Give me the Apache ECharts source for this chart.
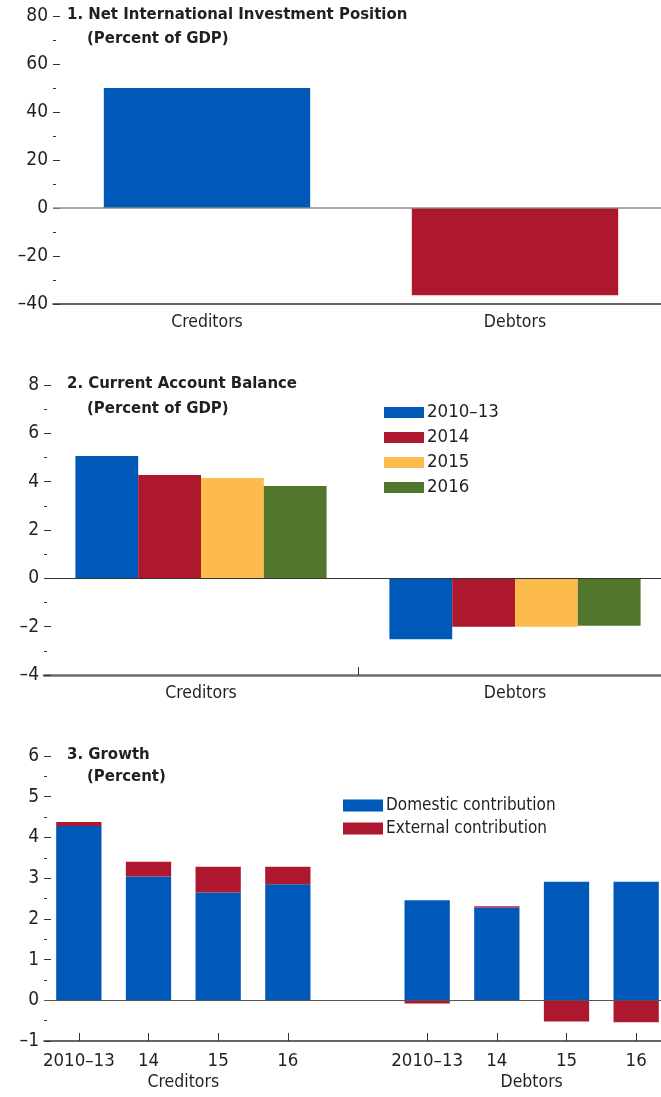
<!DOCTYPE html>
<html>
<head>
<meta charset="utf-8">
<script src="https://cdn.jsdelivr.net/npm/echarts@6/dist/echarts.min.js"></script>
<style>
html,body{margin:0;padding:0;background:#fff;}
#c{width:661px;height:1097px;}
</style>
</head>
<body>
<div id="c"></div>
<script>
// ---- Data ----
const niipCategories = ['Creditors', 'Debtors'];
const niipValues = [50, -36.4];

const cabCategories = ['Creditors', 'Debtors'];
const cabSeriesNames = ['2010–13', '2014', '2015', '2016'];
const cab2010_13 = [5.06, -2.52];
const cab2014 = [4.28, -2.0];
const cab2015 = [4.15, -2.0];
const cab2016 = [3.82, -1.96];

const growthCategories = ['2010–13', '14', '15', '16', '', '2010–13', '14', '15', '16'];
const growthDomestic = [4.28, 3.04, 2.65, 2.85, '-', 2.46, 2.28, 2.91, 2.91];
const growthExternal = [0.10, 0.36, 0.63, 0.43, '-', -0.08, 0.03, -0.52, -0.54];
const growthGroups = ['Creditors', 'Debtors'];

// ---- Style ----
const FONT = "'Liberation Sans Narrow','DejaVu Sans Condensed','Roboto',sans-serif";
const TXT = '#231f20';
const BLUE = '#0058b8', RED = '#ae182e', YELLOW = '#fdba4d', GREEN = '#50762b';

function fmt(v){ return v < 0 ? '–' + Math.abs(v) : String(v); }

function yAxisDef(grid, min, max, interval){
  return {
    type: 'value', gridIndex: grid, min: min, max: max, interval: interval,
    axisLine: {show: false},
    axisTick: {show: true, inside: true, length: 7, lineStyle: {color: '#333', width: 1}},
    minorTick: {show: true, splitNumber: 2, length: 3, lineStyle: {color: '#333', width: 1}},
    splitLine: {show: false},
    axisLabel: {formatter: fmt, color: TXT, fontFamily: FONT, fontSize: 19, margin: 5}
  };
}
function zeroLine(color, width){
  return {silent: true, symbol: 'none', label: {show: false},
    lineStyle: {color: color, width: width, type: 'solid'},
    data: [{yAxis: 0}]};
}
function titleDef(text, left, top){
  return {text: text, left: left, top: top, padding: 0,
    textStyle: {fontFamily: FONT, fontSize: 16.6, fontWeight: 'bold', color: TXT}};
}
const legendText = {fontFamily: FONT, fontSize: 17, color: TXT, padding: [0,0,0,-2]};
function gridDef(left, width, top, height){
  return {left: left, width: width, top: top, height: height, containLabel: false, outerBoundsMode: 'none'};
}

const option = {
  animation: false,
  backgroundColor: '#fff',
  title: [
    titleDef('1. Net International Investment Position', 67, 6),
    titleDef('(Percent of GDP)', 87, 30),
    titleDef('2. Current Account Balance', 67, 375),
    titleDef('(Percent of GDP)', 87, 400),
    titleDef('3. Growth', 67, 746),
    titleDef('(Percent)', 87, 768)
  ],
  legend: [
    {data: cabSeriesNames, orient: 'vertical', left: 384, top: 403, padding: 0, itemWidth: 40, itemHeight: 11, itemGap: 6,
     icon: 'rect', textStyle: Object.assign({}, legendText, {fontSize: 18.5})},
    {data: ['Domestic contribution', 'External contribution'], orient: 'vertical', left: 343, top: 797, padding: 0,
     itemWidth: 40, itemHeight: 12, itemGap: 6, icon: 'rect', textStyle: legendText}
  ],
  grid: [
    gridDef(53, 616, 16, 288),
    gridDef(44, 628, 385, 290),
    gridDef(44, 627, 756, 285)
  ],
  xAxis: [
    {type: 'category', gridIndex: 0, data: niipCategories,
     axisLine: {onZero: false, lineStyle: {color: '#333', width: 1.5}},
     axisTick: {show: false},
     axisLabel: {color: TXT, fontFamily: FONT, fontSize: 17.5, margin: 9}},
    {type: 'category', gridIndex: 1, data: cabCategories,
     axisLine: {onZero: false, lineStyle: {color: '#6b6b6b', width: 2.5}},
     axisTick: {show: false},
     axisLabel: {color: TXT, fontFamily: FONT, fontSize: 17.5, margin: 9}},
    // boundary tick between the two groups of panel 2
    {type: 'category', gridIndex: 1, data: ['', '|', ''], boundaryGap: false, position: 'bottom',
     axisLine: {show: false, onZero: false}, axisLabel: {show: false}, splitLine: {show: false},
     axisTick: {show: true, inside: true, alignWithLabel: true, length: 8,
       interval: function(i){ return i === 1; }, lineStyle: {color: '#333', width: 1}}},
    {type: 'category', gridIndex: 2, data: growthCategories,
     axisLine: {onZero: false, lineStyle: {color: '#333', width: 1.5}},
     axisTick: {show: true, inside: true, alignWithLabel: true, length: 8,
       interval: function(i, v){ return v !== ''; }, lineStyle: {color: '#333', width: 1}},
     axisLabel: {color: TXT, fontFamily: FONT, fontSize: 18.5, margin: 11, interval: 0}},
    {type: 'value', gridIndex: 2, min: 0, max: growthCategories.length, interval: 1, position: 'bottom', offset: 21,
     axisLine: {show: false}, axisTick: {show: false}, splitLine: {show: false},
     axisLabel: {color: TXT, fontFamily: FONT, fontSize: 17.5, margin: 11, showMinLabel: true, showMaxLabel: true,
       formatter: function(v){
         const gap = growthCategories.indexOf('');
         if (v === 2) return growthGroups[0];
         if (v === gap + 3) return growthGroups[1];
         return '';
       }}}
  ],
  yAxis: [
    yAxisDef(0, -40, 80, 20),
    yAxisDef(1, -4, 8, 2),
    yAxisDef(2, -1, 6, 1)
  ],
  series: [
    {name: 'NIIP', type: 'bar', xAxisIndex: 0, yAxisIndex: 0, barCategoryGap: '33%',
     data: niipValues.map(function(v, i){ return {value: v, itemStyle: {color: i === 0 ? BLUE : RED}}; }),
     markLine: zeroLine('#8a8a8a', 1.5)},
    {name: cabSeriesNames[0], type: 'bar', xAxisIndex: 1, yAxisIndex: 1, data: cab2010_13, itemStyle: {color: BLUE},
     barGap: '0%', barCategoryGap: '20%', markLine: zeroLine('#333', 1)},
    {name: cabSeriesNames[1], type: 'bar', xAxisIndex: 1, yAxisIndex: 1, data: cab2014, itemStyle: {color: RED}, barGap: '0%', barCategoryGap: '20%'},
    {name: cabSeriesNames[2], type: 'bar', xAxisIndex: 1, yAxisIndex: 1, data: cab2015, itemStyle: {color: YELLOW}, barGap: '0%', barCategoryGap: '20%'},
    {name: cabSeriesNames[3], type: 'bar', xAxisIndex: 1, yAxisIndex: 1, data: cab2016, itemStyle: {color: GREEN}, barGap: '0%', barCategoryGap: '20%'},
    {name: 'Domestic contribution', type: 'bar', xAxisIndex: 3, yAxisIndex: 2, stack: 'g', data: growthDomestic,
     itemStyle: {color: BLUE}, barCategoryGap: '35%', markLine: zeroLine('#555', 1.2)},
    {name: 'External contribution', type: 'bar', xAxisIndex: 3, yAxisIndex: 2, stack: 'g', data: growthExternal,
     itemStyle: {color: RED}, barCategoryGap: '35%'}
  ]
};

const chart = echarts.init(document.getElementById('c'), null, {renderer: 'canvas'});
chart.setOption(option);
</script>
</body>
</html>
